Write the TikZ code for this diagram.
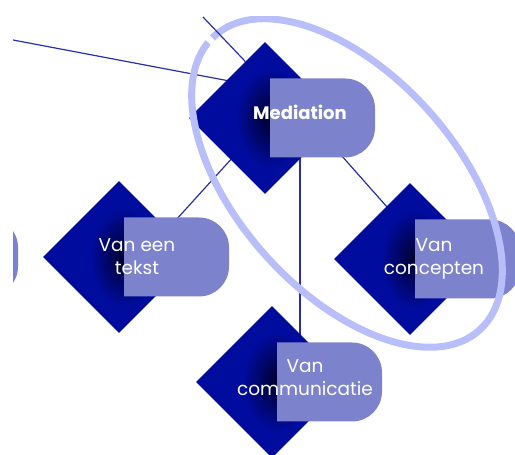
\documentclass[tikz,border=0pt]{standalone}
\usepackage{fontspec}
\setmainfont{Poppins}
\usetikzlibrary{shapes.geometric}
\definecolor{dblue}{RGB}{0,12,158}
\definecolor{pillc}{RGB}{124,131,204}
\definecolor{ringc}{RGB}{184,190,250}
\definecolor{linec}{RGB}{40,48,168}
\definecolor{shadowc}{RGB}{0,0,45}
\begin{document}
\begin{tikzpicture}[x=1pt,y=1pt,
 diam/.style={diamond, fill=dblue, minimum width=152pt, minimum height=152pt, inner sep=0pt, aspect=1},
 conn/.style={draw=linec, line width=1.2pt},
 lbl/.style={text=white, font=\fontsize{18.5}{18.5}\selectfont, anchor=base, inner sep=0pt},
 pillshape/.pic={\fill[pillc] (0,-39.5) -- (75,-39.5) arc[start angle=-90,end angle=0,radius=30] -- (105,9.5) arc[start angle=0,end angle=90,radius=30] -- (0,39.5) -- cycle;}]
\useasboundingbox (0,0) rectangle (515,455);
\clip (13,0) rectangle (515,438);
% connector end points
\coordinate (l1s) at (13,415);
\coordinate (l1e) at (240,372);
\coordinate (l2s) at (203,438);
\coordinate (l2e) at (245.4,393.4);
\coordinate (l3s) at (244,310);
\coordinate (l3e) at (175,234);
\coordinate (l4s) at (341,300);
\coordinate (l4e) at (395,239);
\coordinate (l5s) at (300,305);
\coordinate (l5e) at (300,110);
\draw[conn] (l1s) -- (l1e);
\draw[conn] (l3s) -- (l3e);
\draw[conn] (l4s) -- (l4e);
\draw[conn] (l5s) -- (l5e);
% partial pill at the left edge
\pic (pleft) at (-87,198) {pillshape};
% diamonds
\node[diam] (med) at (265,337) {};
\node[diam] (tek) at (119,198) {};
\node[diam] (con) at (410,196) {};
\node[diam] (com) at (272,73) {};
% shadows of the pills on the diamonds
\foreach \n/\px/\py in {med/270/337, tek/124/198, con/415/196, com/277/73}{
  \begin{scope}
    \clip (\n.north) -- (\n.east) -- (\n.south) -- (\n.west) -- cycle;
    \shade[inner color=shadowc, outer color=dblue] (\px,\py) ellipse [x radius=34, y radius=50];
  \end{scope}
}
% pills
\pic (pmed) at (270,337) {pillshape};
\pic (ptek) at (124,198) {pillshape};
\pic (pcon) at (415,196) {pillshape};
\pic (pcom) at (277,73) {pillshape};
% ring
\draw[ringc, line width=7pt, rotate around={-48:(347,272)}] (347,272) ellipse [x radius=198, y radius=109];
% gap in the ring and the top connector
\coordinate (gap1) at (206.5,418.8);
\coordinate (gap2) at (217.5,407.2);
\draw[white, line width=6pt] (gap1) -- (gap2);
\draw[conn] (l2s) -- (l2e);
% labels
\node[lbl, font=\bfseries\fontsize{18}{18}\selectfont] (tmed) at (300,335) {Mediation};
\node[lbl] (ttek1) at (137,203) {Van een};
\node[lbl] (ttek2) at (137,180) {tekst};
\node[lbl] (tcon1) at (434,203) {Van};
\node[lbl] (tcon2) at (434,180) {concepten};
\node[lbl] (tcom1) at (305,82) {Van};
\node[lbl] (tcom2) at (305,59) {communicatie};
\end{tikzpicture}
\end{document}
